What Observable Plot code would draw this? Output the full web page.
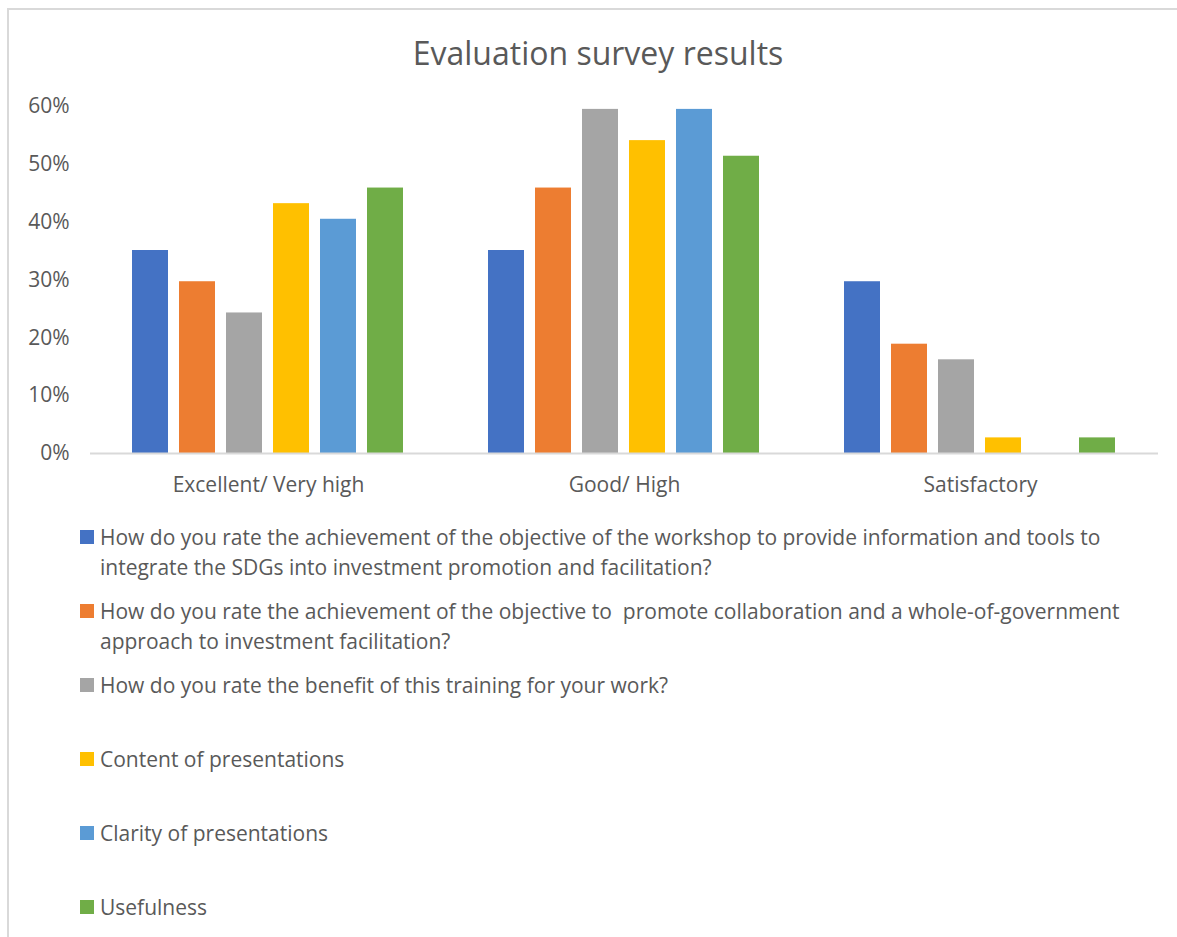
<!DOCTYPE html>
<html>
<head>
<meta charset="utf-8">
<script src="https://cdn.jsdelivr.net/npm/d3@7"></script>
<script src="https://cdn.jsdelivr.net/npm/@observablehq/plot@0.6"></script>
<style>
  html, body { margin: 0; padding: 0; background: #fff; }
  body { width: 1177px; height: 937px; position: relative; overflow: hidden; font-family: "Open Sans", Lato, sans-serif; color: #595959; }
  #frame { position: absolute; left: 7px; top: 8px; width: 1200px; height: 960px; border-left: 2px solid #d9d9d9; border-top: 2px solid #d9d9d9; }
  #title { position: absolute; left: 0; top: 31px; width: 1196px; text-align: center; font-size: 32px; color: #595959; }
  #chart { position: absolute; left: 0; top: 80px; }
  #legend { position: absolute; left: 80px; top: 522px; width: 1055px; }
  .item { position: relative; height: 74px; font-size: 21px; line-height: 30px; padding-left: 20px; white-space: pre-wrap; }
  .sw { position: absolute; left: 0; top: 8px; width: 14px; height: 14px; }
</style>
</head>
<body>
<div id="frame"></div>
<div id="title">Evaluation survey results</div>
<div id="chart"></div>
<div id="legend"></div>
<script>
const categories = ["Excellent/ Very high", "Good/ High", "Satisfactory"];
const seriesNames = [
  "How do you rate the achievement of the objective of the workshop to provide information and tools to integrate the SDGs into investment promotion and facilitation?",
  "How do you rate the achievement of the objective to  promote collaboration and a whole-of-government approach to investment facilitation?",
  "How do you rate the benefit of this training for your work?",
  "Content of presentations",
  "Clarity of presentations",
  "Usefulness"
];
const colors = ["#4472C4", "#ED7D31", "#A5A5A5", "#FFC000", "#5B9BD5", "#70AD47"];
// values per series, in category order
const objectiveSDGs = [0.351, 0.351, 0.297];
const objectiveCollab = [0.297, 0.459, 0.189];
const benefit = [0.243, 0.595, 0.162];
const content = [0.432, 0.541, 0.027];
const clarity = [0.405, 0.595, 0.0];
const usefulness = [0.459, 0.514, 0.027];
const yTicks = [0, 0.1, 0.2, 0.3, 0.4, 0.5, 0.6];

const seriesValues = [objectiveSDGs, objectiveCollab, benefit, content, clarity, usefulness];
const data = [];
categories.forEach((c, ci) => {
  seriesNames.forEach((s, si) => {
    data.push({category: c, series: s, value: seriesValues[si][ci]});
  });
});

const plot = Plot.plot({
  width: 1177,
  height: 430,
  marginLeft: 89,
  marginRight: 19,
  marginTop: 26,
  marginBottom: 57,
  style: {fontSize: "21px", fontFamily: "'Open Sans', Lato, sans-serif", color: "#595959", background: "transparent"},
  fx: {domain: categories, padding: 0, label: null, axis: "bottom", tickSize: 0, tickPadding: 24},
  x: {domain: seriesNames, axis: null, paddingInner: 0.23, paddingOuter: 0.87},
  y: {domain: [0, 0.6], ticks: yTicks, tickFormat: d3.format(".0%"), tickSize: 0, tickPadding: 21, label: null},
  color: {domain: seriesNames, range: colors},
  marks: [
    Plot.barY(data, {fx: "category", x: "series", y: "value", fill: "series"}),
    Plot.ruleY([0], {stroke: "#d9d9d9", strokeWidth: 2})
  ]
});
document.getElementById("chart").appendChild(plot);

const legend = document.getElementById("legend");
seriesNames.forEach((s, i) => {
  const item = document.createElement("div");
  item.className = "item";
  const sw = document.createElement("span");
  sw.className = "sw";
  sw.style.background = colors[i];
  item.appendChild(sw);
  item.appendChild(document.createTextNode(s));
  legend.appendChild(item);
});
</script>
</body>
</html>
